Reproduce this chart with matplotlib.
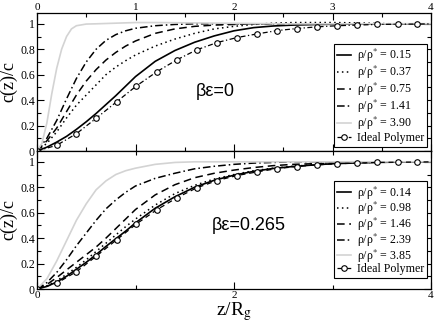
import matplotlib
matplotlib.use("Agg")
import matplotlib.pyplot as plt
from matplotlib.ticker import MultipleLocator, FixedLocator, FormatStrFormatter

plt.rcParams['font.family'] = ['Liberation Serif', 'DejaVu Serif']
plt.rcParams['mathtext.fontset'] = 'stix'

# ---------------- data ----------------
z_grid = [0, 0.1, 0.2, 0.3, 0.4, 0.5, 0.6, 0.7, 0.8, 0.9, 1.0, 1.2, 1.4, 1.6, 1.8,
          2.0, 2.2, 2.4, 2.6, 2.8, 3.0, 3.2, 3.4, 3.6, 3.8, 4.0]

# top panel  (beta*eps = 0)
top_labels = ["0.15", "0.37", "0.75", "1.41", "3.90"]
top_015 = [0, 0.03, 0.07, 0.115, 0.17, 0.23, 0.295, 0.365, 0.435, 0.51, 0.585, 0.705, 0.79,
           0.855, 0.905, 0.945, 0.97, 0.983, 0.99, 0.994, 0.997, 0.998, 0.999, 1.0, 1.0, 1.0]
top_037 = [0, 0.06, 0.15, 0.26, 0.36, 0.44, 0.52, 0.60, 0.66, 0.71, 0.755, 0.825, 0.88,
           0.925, 0.96, 0.98, 0.995, 1.005, 1.01, 1.01, 1.01, 1.008, 1.004, 1.0, 1.0, 1.0]
top_075 = [0, 0.08, 0.18, 0.31, 0.44, 0.55, 0.64, 0.715, 0.775, 0.825, 0.865, 0.925, 0.96,
           0.98, 0.99, 0.995, 1.0, 1.0, 1.0, 1.0, 1.0, 1.0, 1.0, 1.0, 1.0, 1.0]
top_141 = [0, 0.10, 0.24, 0.41, 0.57, 0.70, 0.80, 0.87, 0.915, 0.945, 0.965, 0.985, 0.995,
           1.0, 1.0, 1.0, 1.0, 1.0, 1.0, 1.0, 1.0, 1.0, 1.0, 1.0, 1.0, 1.0]
z_gray_top = [0, 0.05, 0.1, 0.15, 0.2, 0.25, 0.3, 0.35, 0.4, 0.5, 0.6, 0.8, 1.0, 1.2,
              1.5, 2.0, 2.5, 3.0, 4.0]
top_390 = [0, 0.06, 0.22, 0.45, 0.65, 0.80, 0.90, 0.96, 0.985, 0.998, 1.0, 1.005, 1.01,
           1.01, 1.008, 1.004, 1.0, 1.0, 1.0]

# bottom panel (beta*eps = 0.265)
bot_labels = ["0.14", "0.98", "1.46", "2.39", "3.85"]
bot_014 = [0, 0.02, 0.055, 0.10, 0.155, 0.21, 0.27, 0.335, 0.395, 0.455, 0.52, 0.635, 0.725,
           0.80, 0.855, 0.895, 0.925, 0.948, 0.963, 0.975, 0.985, 0.99, 0.995, 0.997, 0.999, 1.0]
bot_098 = [0, 0.025, 0.065, 0.115, 0.17, 0.23, 0.295, 0.36, 0.425, 0.49, 0.55, 0.66, 0.75,
           0.815, 0.865, 0.90, 0.93, 0.95, 0.965, 0.977, 0.986, 0.99, 0.995, 0.997, 0.999, 1.0]
bot_146 = [0, 0.035, 0.09, 0.15, 0.21, 0.27, 0.33, 0.40, 0.475, 0.55, 0.625, 0.74, 0.82,
           0.875, 0.91, 0.935, 0.955, 0.97, 0.98, 0.985, 0.99, 0.993, 0.996, 0.998, 1.0, 1.0]
bot_239 = [0, 0.05, 0.13, 0.23, 0.34, 0.44, 0.54, 0.63, 0.70, 0.76, 0.81, 0.87, 0.91,
           0.945, 0.965, 0.98, 0.99, 0.995, 1.0, 1.0, 1.0, 1.0, 1.0, 1.0, 1.0, 1.0]
bot_385 = [0, 0.08, 0.22, 0.38, 0.54, 0.67, 0.78, 0.85, 0.90, 0.93, 0.95, 0.98, 0.995,
           1.0, 1.0, 1.0, 1.0, 1.0, 1.0, 1.0, 1.0, 1.0, 1.0, 1.0, 1.0, 1.0]

# ideal polymer (both panels)
ideal_z = [0.0, 0.2, 0.4, 0.6, 0.81, 1.01, 1.22, 1.42, 1.62, 1.83, 2.03, 2.23, 2.44, 2.64,
           2.84, 3.05, 3.25, 3.45, 3.66, 3.86, 4.0]
ideal_c = [0, 0.045, 0.136, 0.257, 0.388, 0.512, 0.625, 0.717, 0.795, 0.853, 0.892, 0.92,
           0.947, 0.963, 0.976, 0.985, 0.99, 0.995, 0.997, 0.998, 1.0]

panel_text = [r"βε=0", r"βε=0.265"]

# ---------------- figure ----------------
fig = plt.figure(figsize=(4.36, 3.27), dpi=100)
L, W, H = 37 / 436, 394 / 436, 138 / 327
ax1 = fig.add_axes([L, 1 - 151 / 327, W, H])
ax2 = fig.add_axes([L, 1 - 289 / 327, W, H])

styles = [
    dict(color='black', lw=1.2, ls='-'),
    dict(color='black', lw=1.1, ls=(0, (1, 2.2))),
    dict(color='black', lw=1.1, ls=(0, (5, 3))),
    dict(color='black', lw=1.1, ls=(0, (5, 2, 1, 2))),
    dict(color='#d3d3d3', lw=1.2, ls='-'),
]


def draw(ax, series, zs, labels, ideal_ls, legend_bottom, legend_space):
    for s, zz, lab, st in zip(series, zs, labels, styles):
        ax.plot(zz, s, label=r"ρ/ρ$^{*}$ = " + lab, **st)
    ax.plot(ideal_z, ideal_c, color='black', lw=0.9, ls=ideal_ls, marker='o',
            ms=4, mfc='white', mec='black', mew=0.8, markevery=slice(0, len(ideal_z) - 1),
            label="Ideal Polymer")
    ax.set_xlim(0, 4)
    ax.set_ylim(0, 1.085)
    ax.yaxis.set_major_locator(MultipleLocator(0.2))
    ax.yaxis.set_minor_locator(MultipleLocator(0.1))
    ax.yaxis.set_major_formatter(FormatStrFormatter('%g'))
    ax.tick_params(which='both', direction='in', top=True, right=True, labelsize=8.5, pad=1.5)
    ax.tick_params(which='major', length=5, width=0.8)
    ax.tick_params(which='minor', length=3, width=0.8)
    for sp in ax.spines.values():
        sp.set_linewidth(0.9)
    ax.set_ylabel("c(z)/c", fontsize=13)
    ax.yaxis.set_label_coords(-0.05, 0.5)
    leg = ax.legend(loc='lower right', bbox_to_anchor=(0.99, legend_bottom), fontsize=8.6,
                    frameon=True, fancybox=False, edgecolor='black', framealpha=1,
                    handlelength=1.15, handletextpad=0.5, labelspacing=legend_space,
                    borderpad=0.25, borderaxespad=0)
    leg.get_frame().set_linewidth(0.8)


draw(ax1, [top_015, top_037, top_075, top_141, top_390],
     [z_grid, z_grid, z_grid, z_grid, z_gray_top], top_labels, (0, (4, 2, 1, 2)), 0.03, -0.02)
draw(ax2, [bot_014, bot_098, bot_146, bot_239, bot_385],
     [z_grid] * 5, bot_labels, (0, (4, 3)), 0.08, -0.13)

ax1.xaxis.set_major_locator(FixedLocator([0, 1, 2, 3, 4]))
ax1.xaxis.set_minor_locator(MultipleLocator(0.5))
ax1.tick_params(axis='x', labeltop=True, labelbottom=False, labelsize=8, pad=1)
ax1.xaxis.set_major_formatter(FormatStrFormatter('%g'))

ax2.xaxis.set_major_locator(FixedLocator([0, 2, 4]))
ax2.xaxis.set_minor_locator(FixedLocator([1, 3]))
ax2.xaxis.set_major_formatter(FormatStrFormatter('%g'))
ax2.tick_params(axis='x', labelsize=8, pad=1.5)
ax2.set_xlabel("z/R$_{\\mathrm{g}}$", fontsize=14, labelpad=0)

ax1.text(1.61, 0.47, panel_text[0], family=['Liberation Sans', 'DejaVu Sans'], fontsize=13,
         va='center', ha='left')
ax2.text(1.77, 0.50, panel_text[1], family=['Liberation Sans', 'DejaVu Sans'], fontsize=13,
         va='center', ha='left')

fig.savefig("out.png", dpi=100)
